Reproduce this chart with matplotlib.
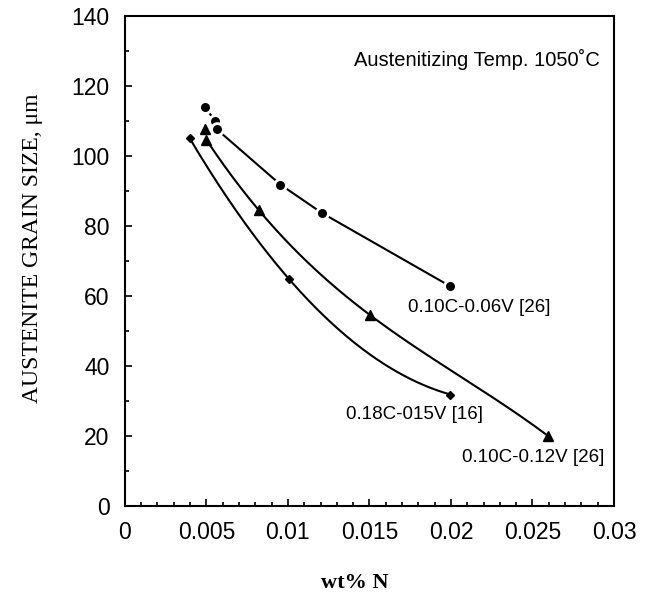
import numpy as np
import matplotlib
matplotlib.use("Agg")
import matplotlib.pyplot as plt
from matplotlib.ticker import MultipleLocator

# ---- data ----
v06_x = [0.0049, 0.00555, 0.00564, 0.00954, 0.01208, 0.01997]
v06_y = [113.8, 109.9, 107.5, 91.7, 83.6, 62.6]

v12_x = [0.0049, 0.0050, 0.00823, 0.01504, 0.02595]
v12_y = [107.6, 104.5, 84.3, 54.4, 19.9]
v12_curve_start = 1  # curve drawn from the 2nd triangle onward

v15_x = [0.00398, 0.01007, 0.01997]
v15_y = [104.9, 64.7, 31.7]

series_labels = ["0.10C-0.06V [26]", "0.18C-015V [16]", "0.10C-0.12V [26]"]
note_text = "Austenitizing Temp. 1050\u02daC"
x_ticks = [0, 0.005, 0.01, 0.015, 0.02, 0.025, 0.03]
x_tick_labels = ["0", "0.005", "0.01", "0.015", "0.02", "0.025", "0.03"]
y_ticks = [0, 20, 40, 60, 80, 100, 120, 140]

sans = ["Liberation Sans", "DejaVu Sans"]
serif = ["Liberation Serif", "DejaVu Serif"]

fig = plt.figure(figsize=(6.57, 5.92), dpi=100)
ax = fig.add_axes([0.190, 0.1461, 0.7446, 0.8277])

lw = 1.5
# circles: straight segments, markers with white halo (gaps)
ax.plot(v06_x, v06_y, color="black", lw=lw, zorder=2)
ax.plot(v06_x, v06_y, ls="none", marker="o", ms=8.5, mfc="black",
        mec="white", mew=2, zorder=3)

# triangles: smooth curve
tx = np.array(v12_x[v12_curve_start:])
ty = np.array(v12_y[v12_curve_start:])
c = np.polyfit(tx, ty, len(tx) - 1)
xs = np.linspace(tx.min(), tx.max(), 200)
ax.plot(xs, np.polyval(c, xs), color="black", lw=lw, zorder=2)
ax.plot(v12_x, v12_y, ls="none", marker="^", ms=7, color="black", zorder=3)

# diamonds: smooth curve
dx = np.array(v15_x)
dy = np.array(v15_y)
c2 = np.polyfit(dx, dy, len(dx) - 1)
xs2 = np.linspace(dx.min(), dx.max(), 200)
ax.plot(xs2, np.polyval(c2, xs2), color="black", lw=lw, zorder=2)
ax.plot(v15_x, v15_y, ls="none", marker="D", ms=4.5, color="black", zorder=3)

# text annotations
ax.text(0.02175, 56.6, series_labels[0], ha="center", va="center",
        fontsize=13.5, family=sans)
ax.text(0.01778, 26.1, series_labels[1], ha="center", va="center",
        fontsize=13.5, family=sans)
ax.text(0.02503, 13.7, series_labels[2], ha="center", va="center",
        fontsize=13.5, family=sans)
ax.text(0.02157, 127.5, note_text, ha="center", va="center",
        fontsize=14.5, family=sans)

ax.set_xlim(0, 0.03)
ax.set_ylim(0, 140)
ax.set_xticks(x_ticks)
ax.set_xticklabels(x_tick_labels)
ax.set_yticks(y_ticks)
ax.xaxis.set_minor_locator(MultipleLocator(0.001))
ax.yaxis.set_minor_locator(MultipleLocator(10))
ax.tick_params(which="both", direction="in", top=False, right=False,
               width=1.2, labelsize=16.5, pad=11)
ax.tick_params(which="major", length=5)
ax.tick_params(which="minor", length=3)
for lab in ax.get_xticklabels() + ax.get_yticklabels():
    lab.set_family(sans)
for s in ax.spines.values():
    s.set_linewidth(1.5)

ax.set_ylabel("AUSTENITE GRAIN SIZE, \u03bcm", family=serif, fontsize=17)
ax.yaxis.set_label_coords(-0.168, 0.525)
ax.set_xlabel("wt% N", family=serif, fontsize=16, fontweight="bold")
ax.xaxis.set_label_coords(0.47, -0.137)

fig.savefig("out.png", dpi=100)
